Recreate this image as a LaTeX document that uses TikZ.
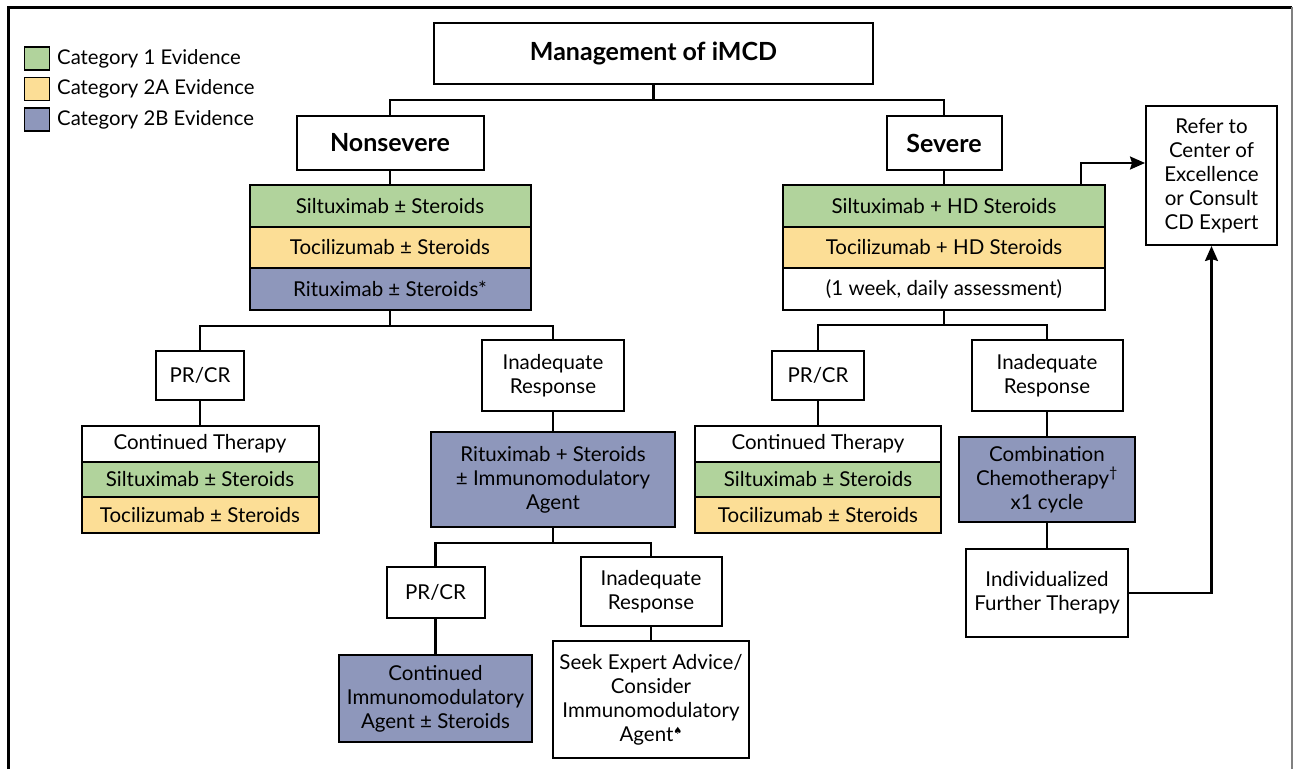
\documentclass[tikz,border=0pt]{standalone}
\usepackage{fontspec}
\setmainfont{Lato}
\newfontfamily\symfont{DejaVu Sans}
\usetikzlibrary{arrows.meta}
\definecolor{catg}{HTML}{B1D39C}
\definecolor{caty}{HTML}{FCDE96}
\definecolor{catb}{HTML}{8E97BB}
\begin{document}
\begin{tikzpicture}[x=1pt,y=-1pt,
  bx/.style={draw, line width=2pt, inner sep=0pt, align=center, fill=white,
    font=\fontsize{20.5}{24}\selectfont},
  hd/.style={bx, font=\fontsize{25}{28}\selectfont\bfseries},
  ln/.style={line width=2.2pt},
  arr/.style={line width=2.2pt, -{Stealth[length=15pt,width=13pt,inset=2pt]}},
  legbox/.style={draw, line width=1.6pt, minimum width=25, minimum height=23, inner sep=0pt},
  legtxt/.style={anchor=west, inner sep=0pt, font=\fontsize{20.3}{24}\selectfont}]
\useasboundingbox (0,0) rectangle (1293,769);
% frame
\draw[line width=3pt] (8,769) -- (8,7) -- (1292,7);
\draw[line width=1.5pt, gray] (1292,7) -- (1292,769);
% legend
\node[legbox, fill=catg] (lg1) at (37,58.5) {};
\node[legbox, fill=caty] (lg2) at (37,89) {};
\node[legbox, fill=catb] (lg3) at (37,119.5) {};
\node[legtxt] (lt1) at (57,58.5) {Category 1 Evidence};
\node[legtxt] (lt2) at (57,89) {Category 2A Evidence};
\node[legtxt] (lt3) at (57,119.5) {Category 2B Evidence};
% top
\node[hd, minimum width=439, minimum height=61] (title) at (653.5,53.5) {Management of iMCD};
\node[hd, minimum width=187, minimum height=54] (nonsev) at (390,143) {Nonsevere};
\node[hd, minimum width=115, minimum height=54] (sev) at (944,143) {Severe};
% left stack
\node[bx, fill=catg, minimum width=281, minimum height=41.5] (sil1) at (390,206) {Siltuximab ± Steroids};
\node[bx, fill=caty, minimum width=281, minimum height=41.5] (toc1) at (390,247.5) {Tocilizumab ± Steroids};
\node[bx, fill=catb, minimum width=281, minimum height=41.5] (rit1) at (390,289) {Rituximab ± Steroids*};
% right stack
\node[bx, fill=catg, minimum width=322, minimum height=41.5] (sil2) at (944,206) {Siltuximab + HD Steroids};
\node[bx, fill=caty, minimum width=322, minimum height=41.5] (toc2) at (944,247.5) {Tocilizumab + HD Steroids};
\node[bx, minimum width=322, minimum height=41.5] (wk) at (944,289) {(1 week, daily assessment)};
% refer
\node[bx, minimum width=131, minimum height=139] (refer) at (1211.5,175.5) {Refer to\\Center of\\Excellence\\or Consult\\CD Expert};
% left branch
\node[bx, minimum width=88, minimum height=49] (prcr1) at (200,375.5) {PR/CR};
\node[bx, minimum width=142, minimum height=71] (inad1) at (553,375.5) {Inadequate\\Response};
\node[bx, minimum width=237, minimum height=35.5] (ct1) at (200,443.75) {Continued Therapy};
\node[bx, fill=catg, minimum width=237, minimum height=35.5] (sil3) at (200,479.25) {Siltuximab ± Steroids};
\node[bx, fill=caty, minimum width=237, minimum height=35.5] (toc3) at (200,514.75) {Tocilizumab ± Steroids};
\node[bx, fill=catb, minimum width=244, minimum height=95] (rit2) at (553,479.5) {Rituximab + Steroids\\± Immunomodulatory\\Agent};
\node[bx, minimum width=98, minimum height=51] (prcr2) at (435.5,592.5) {PR/CR};
\node[bx, minimum width=141, minimum height=69] (inad2) at (651,591.5) {Inadequate\\Response};
\node[bx, fill=catb, minimum width=193, minimum height=87] (cima) at (435.5,698.5) {Continued\\Immunomodulatory\\Agent ± Steroids};
\node[bx, minimum width=196, minimum height=117] (seek) at (651,699.5) {Seek Expert Advice/\\Consider\\Immunomodulatory\\Agent\raisebox{0.6ex}{\symfont\fontsize{10}{10}\selectfont ♠}};
% right branch
\node[bx, minimum width=92, minimum height=49] (prcr3) at (818,375.5) {PR/CR};
\node[bx, minimum width=151, minimum height=71] (inad3) at (1047,375.5) {Inadequate\\Response};
\node[bx, minimum width=246, minimum height=35.5] (ct2) at (818,443.75) {Continued Therapy};
\node[bx, fill=catg, minimum width=246, minimum height=35.5] (sil4) at (818,479.25) {Siltuximab ± Steroids};
\node[bx, fill=caty, minimum width=246, minimum height=35.5] (toc4) at (818,514.75) {Tocilizumab ± Steroids};
\node[bx, fill=catb, minimum width=176, minimum height=85] (comb) at (1047,479.5) {Combination\\Chemotherapy\textsuperscript{†}\\x1 cycle};
\node[bx, minimum width=162, minimum height=88] (indiv) at (1047,593) {Individualized\\Further Therapy};
% connectors
\coordinate (j1) at (653.5,100);
\draw[ln] (title.south) -- (j1);
\draw[ln] (nonsev.north) |- (j1) -| (sev.north);
\draw[ln] (nonsev.south) -- (sil1.north);
\draw[ln] (sev.south) -- (sil2.north);
\coordinate (j2) at (390,326);
\draw[ln] (rit1.south) -- (j2);
\draw[ln] (prcr1.north) |- (j2) -| (inad1.north);
\draw[ln] (prcr1.south) -- (ct1.north);
\draw[ln] (inad1.south) -- (rit2.north);
\coordinate (j3) at (553,543);
\draw[ln] (rit2.south) -- (j3);
\draw[ln] (prcr2.north) |- (j3) -| (inad2.north);
\draw[ln] (prcr2.south) -- (cima.north);
\draw[ln] (inad2.south) -- (seek.north);
\coordinate (j4) at (944,325);
\draw[ln] (wk.south) -- (j4);
\draw[ln] (prcr3.north) |- (j4) -| (inad3.north);
\draw[ln] (prcr3.south) -- (ct2.north);
\draw[ln] (inad3.south) -- (comb.north);
\draw[ln] (comb.south) -- (indiv.north);
\coordinate (a1) at (1081,163);
\draw[arr] (sil2.north -| a1) |- (refer.west |- a1);
\draw[arr] (indiv.east) -| (refer.south);
\end{tikzpicture}
\end{document}
